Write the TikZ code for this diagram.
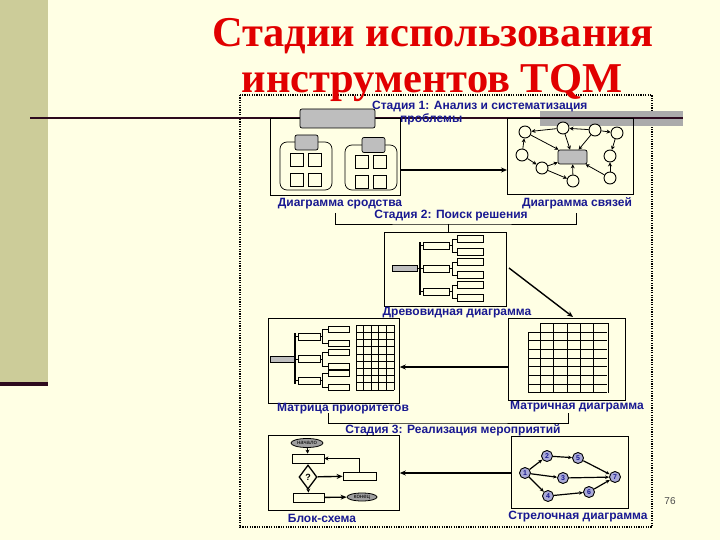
\documentclass[tikz,border=0pt]{standalone}
\usepackage{fontspec}
\setmainfont{Liberation Serif}
\newfontfamily\labfont{Liberation Sans}
\usetikzlibrary{shapes.geometric,arrows.meta}
\definecolor{bg}{RGB}{255,255,228}
\definecolor{band}{RGB}{204,204,153}
\definecolor{darkline}{RGB}{45,10,30}
\definecolor{titlered}{RGB}{225,0,0}
\definecolor{labblue}{RGB}{25,25,145}
\definecolor{gfill}{RGB}{190,190,190}
\definecolor{nodefill}{RGB}{170,170,215}
\begin{document}
\begin{tikzpicture}[x=1pt,y=-1pt,
  box/.style={draw, line width=0.8pt, inner sep=0pt, anchor=north west},
  lab/.style={font=\labfont\bfseries\fontsize{12}{13}\selectfont, text=labblue, inner sep=0pt},
  ttl/.style={font=\bfseries\fontsize{42.5}{46}\selectfont, text=titlered, inner sep=0pt, anchor=base},
  gbox/.style={draw, line width=0.7pt, fill=gfill, rounded corners=2pt, inner sep=0pt},
  sq/.style={draw, line width=0.7pt, inner sep=0pt, minimum size=13pt},
  grp/.style={draw, line width=0.7pt, rounded corners=7pt, inner sep=0pt},
  circ/.style={circle, draw, line width=0.9pt, minimum size=12pt, inner sep=0pt, fill=bg},
  tb/.style={draw, line width=0.6pt, inner sep=0pt, fill=bg},
  arr/.style={-{Stealth[length=4pt,width=4pt]}, line width=0.8pt},
  tarr/.style={-{Stealth[length=6pt,width=5pt]}, line width=1.4pt},
  gn/.style={circle, draw, line width=0.9pt, minimum size=11pt, inner sep=0pt, fill=nodefill, font=\labfont\bfseries\fontsize{7}{7}\selectfont, text=labblue},
  fbox/.style={draw, line width=0.8pt, inner sep=0pt, fill=bg},
  term/.style={ellipse, draw, line width=0.8pt, fill=gray!75, inner sep=0pt, font=\labfont\fontsize{6}{6}\selectfont}
]
\useasboundingbox (0,0) rectangle (720,540);
\fill[bg] (0,0) rectangle (720,540);
\fill[band] (0,0) rectangle (48,382);
\fill[darkline] (0,382) rectangle (48,386);

% dotted frame
\draw[line width=1.3pt, dash pattern=on 1.2pt off 1.2pt] (240,95) rectangle (652,527);

% title
\node[ttl] (t1) at (433,47) {Стадии использования};
\node[ttl] (t2) at (432,93) {инструментов TQM};

% slide line and gray bar
\fill[gfill!90!black] (540,111) rectangle (683,126);
\draw[darkline, line width=1.5pt] (30,118) -- (683,118);

% Stage 1 label
\node[lab, anchor=west] (s1) at (372,107) {Стадия 1: Анализ и систематизация};
\node[lab, anchor=west] (s1b) at (400,119) {проблемы};

% Box A: affinity diagram
\node[box, minimum width=130pt, minimum height=77pt] (A) at (270,118) {};
\node[gbox, minimum width=75pt, minimum height=19pt] (Abar) at (337.5,118.5) {};
\node[grp, minimum width=52pt, minimum height=48pt] (G1) at (306,166) {};
\node[grp, minimum width=52pt, minimum height=45pt] (G2) at (371,167.5) {};
\node[gbox, minimum width=23pt, minimum height=15pt] (G1t) at (306.5,142.5) {};
\node[gbox, minimum width=23pt, minimum height=15pt] (G2t) at (373.5,145) {};
\node[sq] (q11) at (296.5,159.5) {};
\node[sq] (q12) at (315,159.5) {};
\node[sq] (q13) at (296.5,179.5) {};
\node[sq] (q14) at (315,179.5) {};
\node[sq] (q21) at (361.5,161.5) {};
\node[sq] (q22) at (380,161.5) {};
\node[sq] (q23) at (361.5,181.5) {};
\node[sq] (q24) at (380,181.5) {};
\node[lab] (la) at (340,204) {Диаграмма сродства};

% Box B: relations diagram
\node[box, minimum width=126pt, minimum height=76pt] (B) at (507,118) {};
\node[gbox, minimum width=29pt, minimum height=14pt] (bc) at (572.5,157) {};
\node[circ] (b1) at (525,132) {};
\node[circ] (b2) at (563,128) {};
\node[circ] (b3) at (595,130) {};
\node[circ] (b4) at (617,133) {};
\node[circ] (b5) at (522,155) {};
\node[circ] (b6) at (542,168) {};
\node[circ] (b7) at (573,181) {};
\node[circ] (b8) at (610,156) {};
\node[circ] (b9) at (610,178) {};
\draw[arr] (b2) -- (b1);
\draw[arr] (b3) -- (b2);
\draw[arr] (b3) -- (b4);
\draw[arr] (b1) -- (bc);
\draw[arr] (b2) -- (bc);
\draw[arr] (b3) -- (bc);
\draw[arr] (b4) -- (b8);
\draw[arr] (b5) -- (b1);
\draw[arr] (b5) -- (b6);
\draw[arr] (b6) -- (bc);
\draw[arr] (b6) -- (b7);
\draw[arr] (b7) -- (bc);
\draw[arr] (b9) -- (bc);
\draw[arr] (b9) -- (b8);
\node[lab] (lb) at (577,203) {Диаграмма связей};

% A -> B
\coordinate (ab) at (450,170);
\draw[tarr] (A.east |- ab) -- (B.west |- ab);

% Stage 2 bracket
\coordinate (s2l) at (335,213);
\coordinate (s2r) at (576,213);
\coordinate (s2m) at (448,224);
\draw[line width=0.8pt] (s2l) |- (s2m) -| (s2r);
\node[lab] (s2) at (451,216) {Стадия 2: Поиск решения};

% Box C: tree diagram
\node[box, minimum width=122pt, minimum height=74pt] (C) at (384,232) {};
\draw[line width=0.8pt] (s2m) -- (s2m |- C.north);
\node[gbox, rounded corners=0pt, minimum width=25pt, minimum height=6pt] (cg) at (404.5,268.5) {};
\node[tb, minimum width=26pt, minimum height=7pt] (c1) at (436,245.5) {};
\node[tb, minimum width=26pt, minimum height=7pt] (c2) at (436,268.5) {};
\node[tb, minimum width=26pt, minimum height=7pt] (c3) at (436,291.5) {};
\coordinate (ctt) at (420,242);
\coordinate (ctb) at (420,295);
\draw[line width=0.6pt] (cg.east) -- (c2.west);
\draw[line width=0.6pt] (c1.west) -- (ctt |- c1.west);
\draw[line width=0.6pt] (c3.west) -- (ctt |- c3.west);
\draw[line width=1.8pt] (ctt) -- (ctb);
\foreach \i/\y in {1/245.5,2/268.5,3/291.5}{
  \node[tb, minimum width=26pt, minimum height=6.5pt] (c\i a) at (470,\y-6.5) {};
  \node[tb, minimum width=26pt, minimum height=6.5pt] (c\i b) at (470,\y+6.5) {};
  \draw[line width=0.6pt] (c\i.east) -- ++(4,0);
  \draw[line width=0.6pt] (c\i a.west) -- ++(-4,0) |- (c\i b.west);
}
\node[lab] (lc) at (457,313) {Древовидная диаграмма};

% Box D: priority matrix
\node[box, minimum width=131pt, minimum height=85pt] (D) at (268,318) {};
\node[gbox, rounded corners=0pt, minimum width=25pt, minimum height=6pt] (dg) at (282.5,359) {};
\node[tb, minimum width=22pt, minimum height=7pt] (d1) at (309,336.5) {};
\node[tb, minimum width=22pt, minimum height=7pt] (d2) at (309,359) {};
\node[tb, minimum width=22pt, minimum height=7pt] (d3) at (309,380.5) {};
\coordinate (dtt) at (295,333);
\coordinate (dtb) at (295,384);
\draw[line width=0.6pt] (dg.east) -- (d2.west);
\draw[line width=0.6pt] (d1.west) -- (dtt |- d1.west);
\draw[line width=0.6pt] (d3.west) -- (dtt |- d3.west);
\draw[line width=1.8pt] (dtt) -- (dtb);
\foreach \i/\y in {1/336.5,2/359,3/380.5}{
  \node[tb, minimum width=21pt, minimum height=6pt] (d\i a) at (338.5,\y-7) {};
  \node[tb, minimum width=21pt, minimum height=6pt] (d\i b) at (338.5,\y+7) {};
  \draw[line width=0.6pt] (d\i.east) -- ++(3,0);
  \draw[line width=0.6pt] (d\i a.west) -- ++(-5,0) |- (d\i b.west);
}
\foreach \k in {0,...,5}{ \draw[line width=0.7pt] (356+7.6*\k,325) -- (356+7.6*\k,390); }
\foreach \k in {0,...,9}{ \draw[line width=0.7pt] (356,325+7.2222*\k) -- (394,325+7.2222*\k); }
\node[lab] (ld) at (343,409) {Матрица приоритетов};

% Box E: matrix diagram
\node[box, minimum width=117pt, minimum height=82pt] (E) at (508,318) {};
\foreach \x in {540,553,567,580,593,608}{ \draw[line width=0.7pt] (\x,323) -- (\x,393); }
\draw[line width=0.7pt] (528,332) -- (528,393);
\draw[line width=0.7pt] (540,323) -- (608,323);
\foreach \y in {332,340.6,349.3,357.9,366.6,375.2,383.9,392.5}{ \draw[line width=0.7pt] (528,\y) -- (607,\y); }
\node[lab] (le) at (577,407) {Матричная диаграмма};

% C -> E, E -> D
\coordinate (ce) at (509,268);
\coordinate (ce2) at (573,317);
\draw[tarr] (ce) -- (ce2);
\coordinate (ed) at (450,367);
\draw[tarr] (E.west |- ed) -- (D.east |- ed);

% Stage 3 bracket
\coordinate (s3l) at (328,413);
\coordinate (s3r) at (568,413);
\coordinate (s3m) at (448,423);
\draw[line width=0.8pt] (s3l) |- (s3m) -| (s3r);
\node[lab] (s3) at (453,430) {Стадия 3: Реализация мероприятий};

% Box F: flowchart
\node[box, minimum width=131pt, minimum height=75pt] (F) at (268,435) {};
\node[term, minimum width=32pt, minimum height=9pt] (fs) at (307,443) {начало};
\node[fbox, minimum width=32pt, minimum height=9pt] (r1) at (308,458.5) {};
\node[diamond, draw, line width=1.3pt, inner sep=0pt, minimum width=18pt, minimum height=24pt, fill=bg, font=\labfont\bfseries\fontsize{9}{9}\selectfont] (dm) at (308,477) {?};
\node[fbox, minimum width=33pt, minimum height=8pt] (r2) at (359.5,476) {};
\node[fbox, minimum width=31pt, minimum height=9pt] (r3) at (308.5,497.5) {};
\node[term, minimum width=30pt, minimum height=8pt] (fe) at (362,497) {конец};
\draw[arr] (fs) -- (r1);
\draw[line width=0.8pt] (r1) -- (dm);
\draw[tarr] (dm) -- (r2);
\draw[arr] (r2.north) |- (r1.east);
\draw[arr] (dm) -- (r3);
\draw[tarr] (r3) -- (fe);
\node[lab] (lf) at (322,518) {Блок-схема};

% Box G: arrow diagram
\node[box, minimum width=117pt, minimum height=72pt] (G) at (511,436) {};
\node[gn] (g1) at (525,473) {1};
\node[gn] (g2) at (547,456) {2};
\node[gn] (g3) at (563,478) {3};
\node[gn] (g4) at (548,496) {4};
\node[gn] (g5) at (578,458) {5};
\node[gn] (g6) at (589,492) {6};
\node[gn] (g7) at (615,477) {7};
\foreach \a/\b in {g1/g2,g1/g3,g1/g4,g2/g5,g5/g7,g3/g7,g4/g6,g6/g7}{
  \draw[-{Stealth[length=4pt,width=3.5pt]}, line width=1.2pt] (\a) -- (\b);
}
\node[lab] (lg) at (578,517) {Стрелочная диаграмма};

% G -> F
\coordinate (gf) at (450,473);
\draw[tarr] (G.west |- gf) -- (F.east |- gf);

% slide number
\node[font=\labfont\fontsize{10}{10}\selectfont, text=black!70, inner sep=0pt] (num) at (670,501) {76};
\end{tikzpicture}
\end{document}
